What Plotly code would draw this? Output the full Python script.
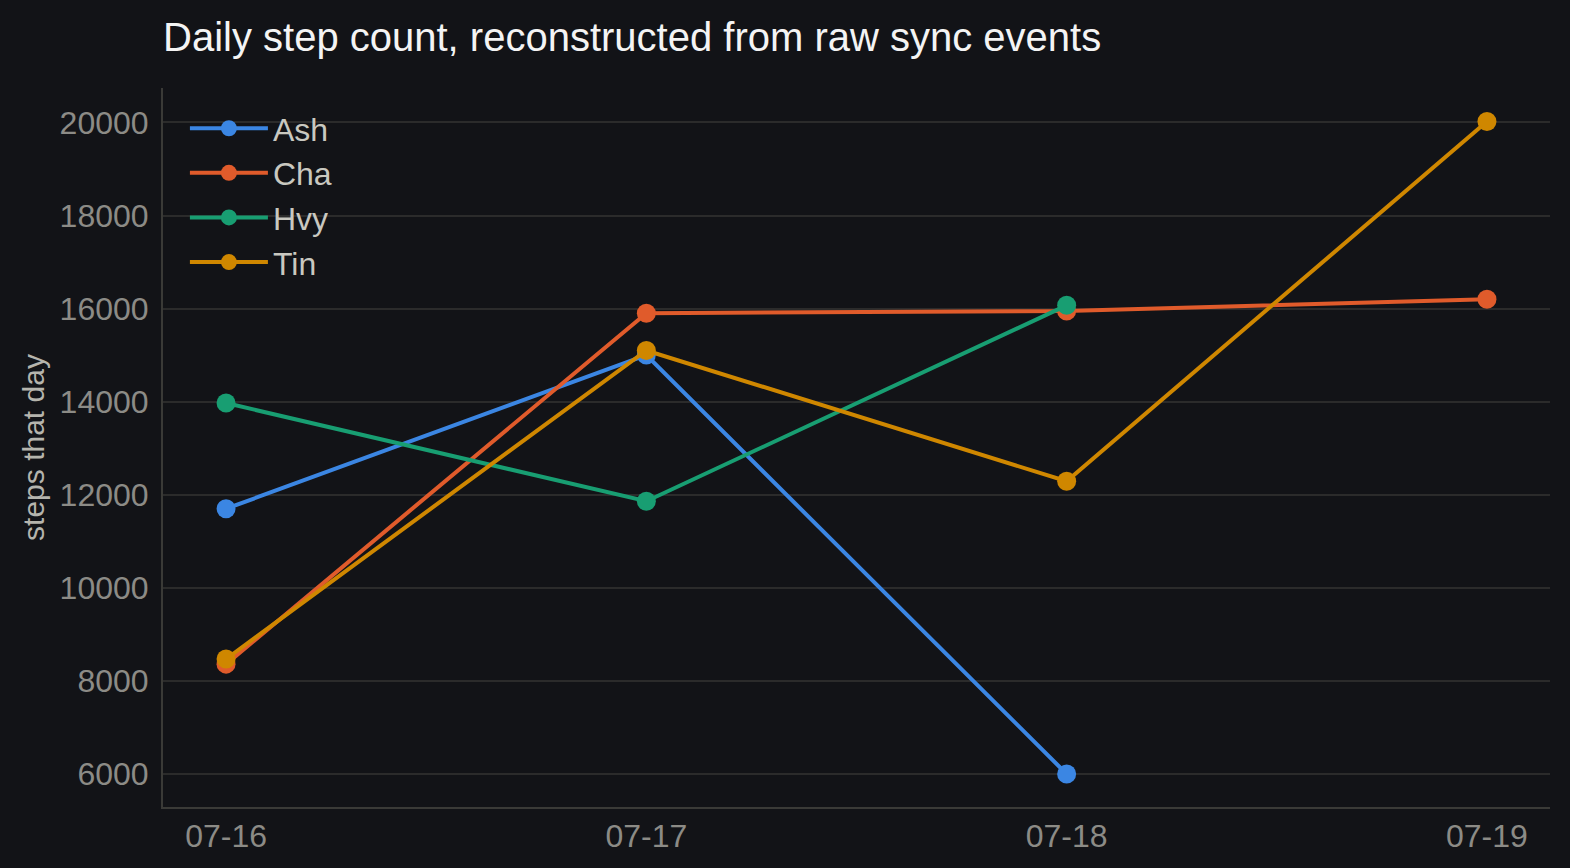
import plotly.graph_objects as go

# daily step totals per person
days = ["07-16", "07-17", "07-18", "07-19"]
ash = [11700, 15000, 6000, None]
cha = [8360, 15900, 15950, 16200]
hvy = [13970, 11860, 16070, None]
tin = [8470, 15100, 12290, 20020]

series = [
    ("Ash", ash, "#3b86e3"),
    ("Cha", cha, "#e05b2b"),
    ("Hvy", hvy, "#189e72"),
    ("Tin", tin, "#cf8700"),
]

fig = go.Figure()
for name, vals, color in series:
    fig.add_trace(go.Scatter(
        x=days, y=vals, name=name,
        mode="lines+markers",
        line=dict(color=color, width=4),
        marker=dict(color=color, size=19),
        connectgaps=False,
    ))

fig.update_layout(
    width=1570, height=868,
    paper_bgcolor="#121317",
    plot_bgcolor="#121317",
    font=dict(family="Liberation Sans, Arial, sans-serif", color="#8c8b86", size=32),
    title=dict(
        text="Daily step count, reconstructed from raw sync events",
        x=0, xref="paper", xanchor="left",
        y=1 - 37 / 868, yref="container", yanchor="middle",
        font=dict(size=40, color="#f4f4f4"),
    ),
    margin=dict(l=163, r=20, t=88, b=61),
    showlegend=True,
    legend=dict(
        x=0.0158, y=0.982, xanchor="left", yanchor="top",
        bgcolor="rgba(0,0,0,0)",
        font=dict(size=32, color="#c9c8c0"),
        itemwidth=78,
    ),
)

fig.update_xaxes(
    type="category",
    range=[-0.15, 3.15],
    showgrid=False,
    showline=True, linecolor="#3a3a37", linewidth=2,
    ticks="", tickfont=dict(size=32, color="#8c8b86"),
    zeroline=False,
)
fig.update_yaxes(
    range=[5290, 20740],
    tickvals=[6000, 8000, 10000, 12000, 14000, 16000, 18000, 20000],
    tickformat="d",
    showgrid=True, gridcolor="#2b2b2b", gridwidth=2,
    showline=True, linecolor="#3a3a37", linewidth=2,
    ticks="", tickfont=dict(size=32, color="#8c8b86"),
    ticklabelstandoff=6,
    title=dict(text="steps that day", font=dict(size=30, color="#b5b4ad"), standoff=6),
    zeroline=False,
)

fig.write_html(
    "out.html",
    config={"displayModeBar": False},
    post_script="document.body.style.margin='0';document.body.style.background='#121317';",
)
